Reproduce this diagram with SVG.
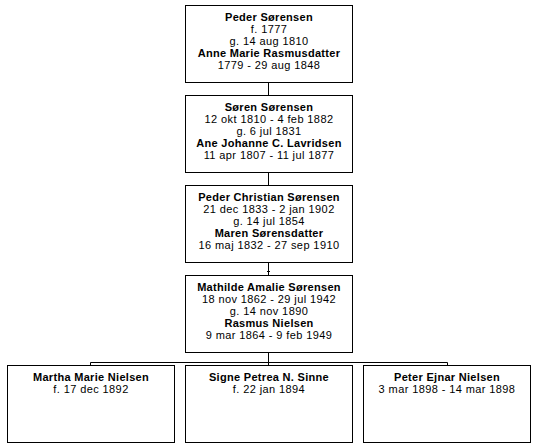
<svg xmlns="http://www.w3.org/2000/svg" width="536" height="448" viewBox="0 0 536 448">
<style>
.box{fill:#fff;stroke:#000;stroke-width:1}
.c{stroke:#000;stroke-width:1;fill:none}
text{font-family:"Liberation Sans",Arial,sans-serif;font-size:11px;letter-spacing:0.4px;text-anchor:middle;fill:#000}
.b{font-weight:bold;letter-spacing:0.3px}
</style>
<rect width="536" height="448" fill="#fff"/>
<g id="connectors">
<path class="c" d="M268.5 82.5V95.5M268.5 172.5V185.5M268.5 262.5V275.5M267 271.5H270M268.5 352.5V362.5M90.5 362.5H447.5M90.5 362.5V365.5M268.5 362.5V365.5M447.5 362.5V365.5"/>
</g>
<g id="n1">
<rect class="box" x="185.5" y="5.5" width="167" height="77"/>
<text x="269" y="21" class="b">Peder Sørensen</text>
<text x="269" y="33">f. 1777</text>
<text x="269" y="45">g. 14 aug 1810</text>
<text x="269" y="57" class="b">Anne Marie Rasmusdatter</text>
<text x="269" y="69">1779 - 29 aug 1848</text>
</g>
<g id="n2">
<rect class="box" x="185.5" y="95.5" width="167" height="77"/>
<text x="269" y="111" class="b">Søren Sørensen</text>
<text x="269" y="123">12 okt 1810 - 4 feb 1882</text>
<text x="269" y="135">g. 6 jul 1831</text>
<text x="269" y="147" class="b">Ane Johanne C. Lavridsen</text>
<text x="269" y="159">11 apr 1807 - 11 jul 1877</text>
</g>
<g id="n3">
<rect class="box" x="185.5" y="185.5" width="167" height="77"/>
<text x="269" y="201" class="b">Peder Christian Sørensen</text>
<text x="269" y="213">21 dec 1833 - 2 jan 1902</text>
<text x="269" y="225">g. 14 jul 1854</text>
<text x="269" y="237" class="b">Maren Sørensdatter</text>
<text x="269" y="249">16 maj 1832 - 27 sep 1910</text>
</g>
<g id="n4">
<rect class="box" x="185.5" y="275.5" width="167" height="77"/>
<text x="269" y="291" class="b">Mathilde Amalie Sørensen</text>
<text x="269" y="303">18 nov 1862 - 29 jul 1942</text>
<text x="269" y="315">g. 14 nov 1890</text>
<text x="269" y="327" class="b">Rasmus Nielsen</text>
<text x="269" y="339">9 mar 1864 - 9 feb 1949</text>
</g>
<g id="c1">
<rect class="box" x="7.5" y="365.5" width="167" height="77"/>
<text x="91" y="381" class="b">Martha Marie Nielsen</text>
<text x="91" y="393">f. 17 dec 1892</text>
</g>
<g id="c2">
<rect class="box" x="185.5" y="365.5" width="167" height="77"/>
<text x="269" y="381" class="b">Signe Petrea N. Sinne</text>
<text x="269" y="393">f. 22 jan 1894</text>
</g>
<g id="c3">
<rect class="box" x="363.5" y="365.5" width="167" height="77"/>
<text x="447" y="381" class="b">Peter Ejnar Nielsen</text>
<text x="447" y="393">3 mar 1898 - 14 mar 1898</text>
</g>
</svg>
